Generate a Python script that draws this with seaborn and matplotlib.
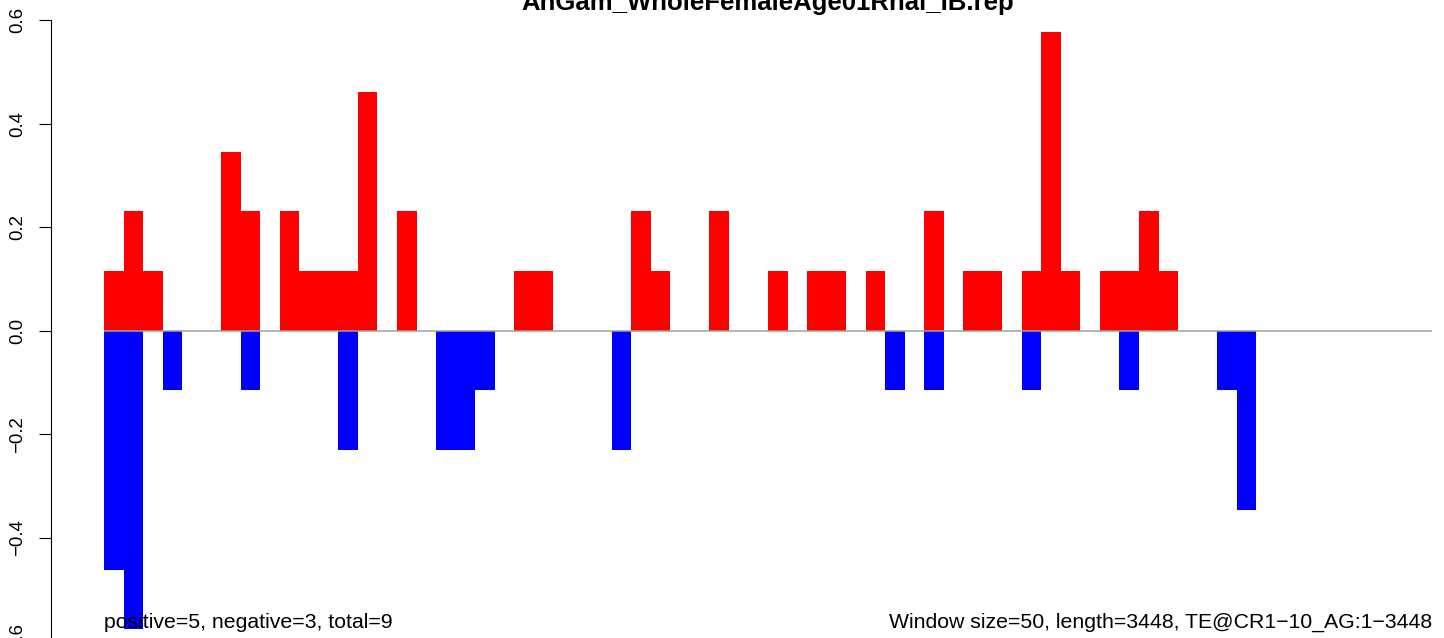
import matplotlib
matplotlib.use("Agg")
import matplotlib.pyplot as plt
import seaborn as sns
import pandas as pd
import numpy as np

# ---------------- data ----------------
title = "AnGam_WholeFemaleAge01Rnai_IB.rep"
window = 50
n_bins = 68
left_note = "positive=5, negative=3, total=9"
right_note = "Window size=50, length=3448, TE@CR1\u221210_AG:1\u22123448"

pos_bins = [0, 1, 2, 6, 7, 9, 10, 11, 12, 13, 15, 21, 22, 27, 28, 31, 34, 36, 37,
            39, 42, 44, 45, 47, 48, 49, 51, 52, 53, 54]
pos_vals = [0.115, 0.231, 0.115, 0.346, 0.231, 0.231, 0.115, 0.115, 0.115, 0.462,
            0.231, 0.115, 0.115, 0.231, 0.115, 0.231, 0.115, 0.115, 0.115,
            0.115, 0.231, 0.115, 0.115, 0.115, 0.577, 0.115, 0.115, 0.115, 0.231, 0.115]

neg_bins = [0, 1, 3, 7, 12, 17, 18, 19, 26, 40, 42, 47, 52, 57, 58]
neg_vals = [-0.462, -0.577, -0.115, -0.115, -0.231, -0.231, -0.231, -0.115,
            -0.231, -0.115, -0.115, -0.115, -0.115, -0.115, -0.346]

ytick_vals = [-0.6, -0.4, -0.2, 0.0, 0.2, 0.4, 0.6]
ytick_labels = ["\u22120.6", "\u22120.4", "\u22120.2", "0.0", "0.2", "0.4", "0.6"]

# ---------------- frame ----------------
all_bins = np.arange(n_bins)
df = pd.DataFrame({"bin": all_bins})
df["pos"] = pd.Series(dict(zip(pos_bins, pos_vals))).reindex(all_bins).fillna(0.0).values
df["neg"] = pd.Series(dict(zip(neg_bins, neg_vals))).reindex(all_bins).fillna(0.0).values
df["center"] = df["bin"] * window + window / 2

# ---------------- plot ----------------
sns.set_style("white")
plt.rcParams["font.family"] = ["Liberation Sans", "DejaVu Sans"]

W, H = 1444, 638
fig = plt.figure(figsize=(W / 100, H / 100), dpi=100)
ax = fig.add_axes([51 / W, -0.02367, (1485 - 51) / W, 1.01066])

sns.barplot(data=df, x="center", y="pos", native_scale=True, width=1,
            color="#FF0000", saturation=1, errorbar=None, linewidth=0,
            edgecolor="none", ax=ax, zorder=2)
sns.barplot(data=df, x="center", y="neg", native_scale=True, width=1,
            color="#0000FF", saturation=1, errorbar=None, linewidth=0,
            edgecolor="none", ax=ax, zorder=2)
for p in ax.patches:
    p.set_antialiased(False)

ax.hlines(0, 0, n_bins * window, color="#A0A0A0", linewidth=1.1, zorder=3)

ax.set_xlim(-136, 3536)
ax.set_ylim(-0.623, 0.623)

for s in ["top", "right", "bottom"]:
    ax.spines[s].set_visible(False)
ax.spines["left"].set_linewidth(0.8)
ax.spines["left"].set_color("black")
ax.spines["left"].set_bounds(-0.6, 0.6)

ax.set_xticks([])
ax.set_xlabel("")
ax.set_ylabel("")
ax.set_yticks(ytick_vals)
ax.set_yticklabels(ytick_labels, rotation=90, va="center", ha="right")
ax.tick_params(axis="y", direction="out", length=8.6, width=0.8, pad=9.5,
               labelsize=13.4, colors="black", left=True)

ax.text(0, -0.5745, left_note, ha="left", va="baseline", fontsize=15.3, color="black")
ax.text(n_bins * window, -0.5745, right_note, ha="right", va="baseline",
        fontsize=15.3, color="black")

fig.text(768 / W, 1 - 10 / H, title, ha="center", va="baseline",
         fontsize=18.5, fontweight="bold", color="black")

fig.savefig("out.png", dpi=100)
